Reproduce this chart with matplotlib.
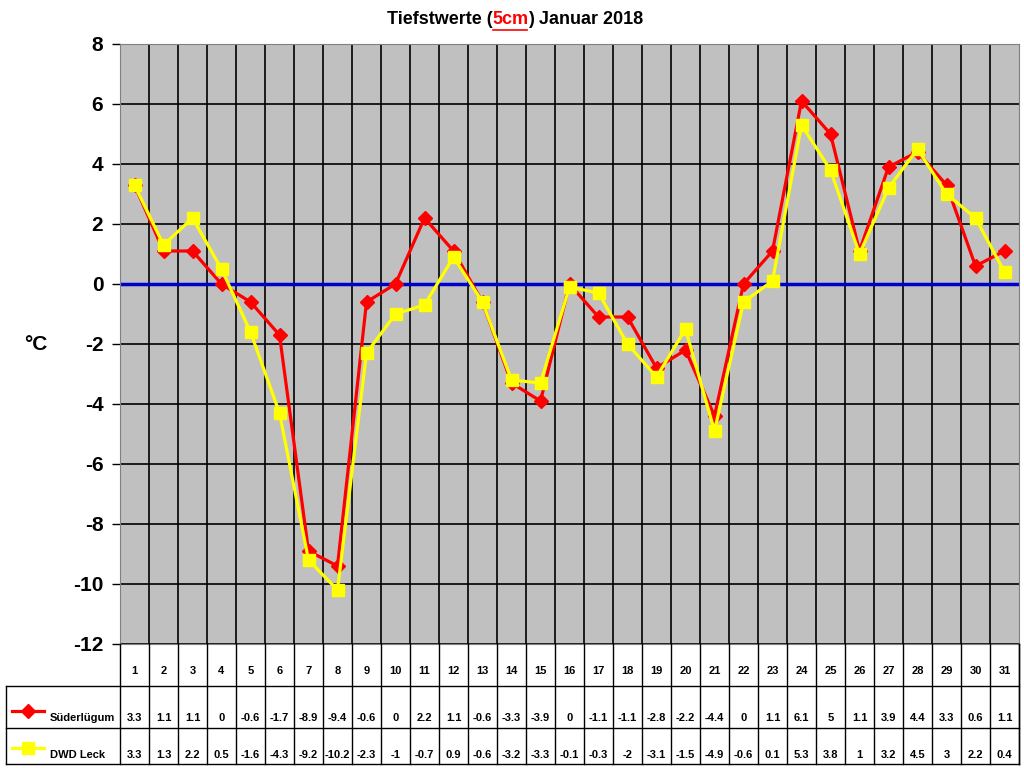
import matplotlib
matplotlib.use('Agg')
import matplotlib.pyplot as plt
import numpy as np

plt.rcParams['font.family'] = ['Liberation Sans', 'DejaVu Sans']
plt.rcParams['font.weight'] = 'bold'

# data
days = list(range(1, 32))
suederluegum = [3.3, 1.1, 1.1, 0, -0.6, -1.7, -8.9, -9.4, -0.6, 0, 2.2, 1.1, -0.6, -3.3, -3.9, 0,
                -1.1, -1.1, -2.8, -2.2, -4.4, 0, 1.1, 6.1, 5, 1.1, 3.9, 4.4, 3.3, 0.6, 1.1]
dwd_leck = [3.3, 1.3, 2.2, 0.5, -1.6, -4.3, -9.2, -10.2, -2.3, -1, -0.7, 0.9, -0.6, -3.2, -3.3, -0.1,
            -0.3, -2, -3.1, -1.5, -4.9, -0.6, 0.1, 5.3, 3.8, 1, 3.2, 4.5, 3, 2.2, 0.4]
series_names = ['Süderlügum', 'DWD Leck']
yticks = list(range(-12, 9, 2))

W, H = 1024, 768
fig = plt.figure(figsize=(W / 100, H / 100), dpi=100)

# plot area in pixels
px0, px1, py0, py1 = 120, 1019, 44, 644
ax = fig.add_axes([px0 / W, 1 - py1 / H, (px1 - px0) / W, (py1 - py0) / H])
ax.set_facecolor('#c0c0c0')
ax.set_xlim(0.5, 31.5)
ax.set_ylim(-12, 8)
ax.set_yticks(yticks)
ax.set_yticklabels([str(t) for t in yticks], fontsize=15, fontweight='bold')
ax.set_xticks([])
ax.tick_params(axis='y', length=6, width=1, pad=6)
for b in np.arange(1.5, 31.5, 1):
    ax.axvline(b, color='black', lw=1.2, zorder=1)
for t in yticks:
    ax.axhline(t, color='black', lw=1.2, zorder=1)
ax.axhline(0, color='#0000cc', lw=2.5, zorder=2)
for s in ax.spines.values():
    s.set_color('#808080')

ax.plot(days, suederluegum, color='#ff0000', lw=2.3, marker='D', ms=7, zorder=3, clip_on=False)
ax.plot(days, dwd_leck, color='#ffff00', lw=2.3, marker='s', ms=8.5, zorder=4, clip_on=False)

fig.text(24 / W, 1 - 344 / H, '°C', fontsize=15, fontweight='bold', ha='left', va='center')

# title with coloured part
parts = [('Tiefstwerte (', 'black'), ('5cm', 'red'), (') Januar 2018', 'black')]
r = fig.canvas.get_renderer()
txts = []
for s, c in parts:
    txts.append(fig.text(0, 1 - 20 / H, s, fontsize=13, fontweight='bold', color=c, va='center'))
widths = [t.get_window_extent(r).width for t in txts]
x = 515 - sum(widths) / 2
for t, w in zip(txts, widths):
    t.set_x(x / W)
    if t.get_color() == 'red':
        fig.add_artist(plt.Line2D([(x + 1) / W, (x + w - 1) / W], [1 - 30 / H, 1 - 30 / H],
                                  color='red', lw=1.2))
    x += w

# data table
tab = fig.add_axes([0, 0, 1, 1])
tab.set_xlim(0, W)
tab.set_ylim(H, 0)
tab.axis('off')
cw = (px1 - px0) / 31
rows = [644, 686, 728, 764]
lc = 'black'
for i in range(32):
    xx = px0 + i * cw
    tab.plot([xx, xx], [rows[0], rows[3]], color=lc, lw=1)
tab.plot([6, 6], [rows[1], rows[3]], color=lc, lw=1)
tab.plot([px1, px1], [rows[0], rows[3]], color=lc, lw=1)
for yy in rows[1:]:
    tab.plot([6, px1], [yy, yy], color=lc, lw=1)

for i, d in enumerate(days):
    tab.text(px0 + (i + 0.5) * cw, 671, str(d), fontsize=8, fontweight='bold', ha='center', va='center')
for vals, yy in [(suederluegum, 718), (dwd_leck, 755)]:
    for i, v in enumerate(vals):
        tab.text(px0 + (i + 0.5) * cw, yy, f'{v:g}', fontsize=8, fontweight='bold', ha='center', va='center')

# legend keys
tab.plot([12, 44], [711, 711], color='#ff0000', lw=2.3)
tab.plot([28], [711], color='#ff0000', marker='D', ms=7)
tab.text(50, 718, series_names[0], fontsize=8, fontweight='bold', va='center')
tab.plot([12, 44], [748, 748], color='#ffff00', lw=2.3)
tab.plot([28], [748], color='#ffff00', marker='s', ms=8.5)
tab.text(50, 755, series_names[1], fontsize=8, fontweight='bold', va='center')

fig.savefig('out.png', dpi=100)
